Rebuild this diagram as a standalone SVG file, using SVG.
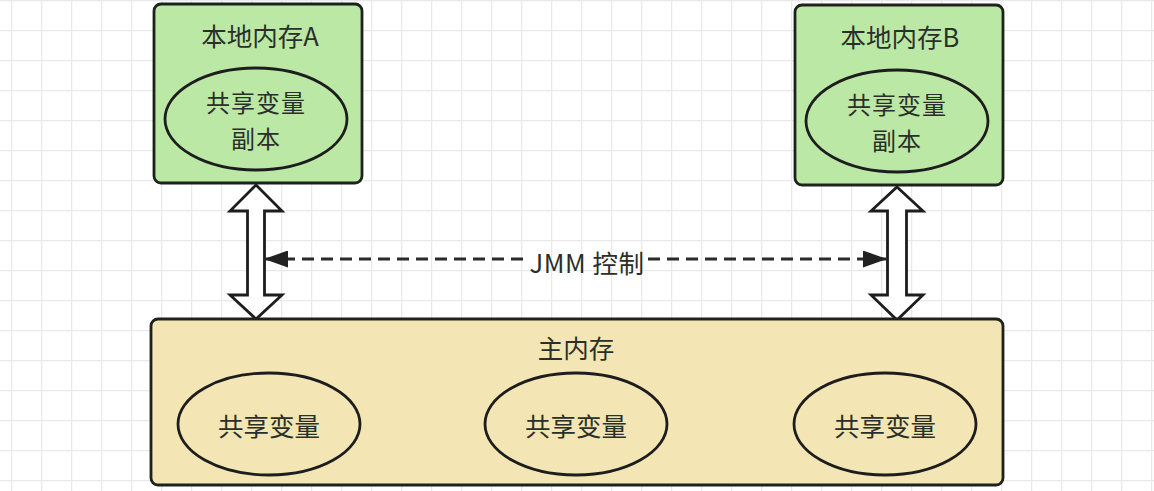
<svg xmlns="http://www.w3.org/2000/svg" width="1154" height="491" viewBox="0 0 1154 491">
<defs>
<pattern id="grid" x="11" y="0" width="30" height="30" patternUnits="userSpaceOnUse">
<path d="M0.5 0 V30 M0 0.5 H30" fill="none" stroke="#e9e9e9" stroke-width="1.6"/>
</pattern>
<marker id="ah" viewBox="0 0 24 17" refX="24" refY="8.5" markerWidth="24" markerHeight="17" markerUnits="userSpaceOnUse" orient="auto">
<path d="M0 0 L24 8.5 L0 17 Z" fill="#222"/>
</marker>
<marker id="ahs" viewBox="0 0 24 17" refX="0" refY="8.5" markerWidth="24" markerHeight="17" markerUnits="userSpaceOnUse" orient="auto">
<path d="M24 0 L0 8.5 L24 17 Z" fill="#222"/>
</marker>
</defs>
<style>
.box{stroke:#1d221d;stroke-width:2.8}
.local{fill:#bce8a5}
.main{fill:#f3e6b4}
.ell{fill:none;stroke:#1d1d1d;stroke-width:2.8}
.t{font-family:"Noto Sans CJK SC","Noto Sans",sans-serif;font-size:25.5px;fill:#2a2f2a;text-anchor:middle;dominant-baseline:central}
.t2{font-size:24px}
.dbl{fill:#ffffff;stroke:#1d1d1d;stroke-width:2.8;stroke-linejoin:miter}
.dash{fill:none;stroke:#2a2a2a;stroke-width:2.8;stroke-dasharray:12 7}
</style>
<rect width="1154" height="491" fill="#ffffff"/>
<rect width="1154" height="491" fill="url(#grid)"/>

<g id="connectors">
<path class="dbl" d="M256 185 L282 211 L264.5 211 L264.5 295 L282 295 L256 319 L230 295 L247.5 295 L247.5 211 L230 211 Z"/>
<path class="dbl" d="M897 187 L923 211 L906.5 211 L906.5 295 L923 295 L897 320 L871 295 L887.5 295 L887.5 211 L871 211 Z"/>
<line class="dash" x1="264" y1="259" x2="525" y2="259" marker-start="url(#ahs)"/>
<line class="dash" x1="648" y1="259" x2="887" y2="259" marker-end="url(#ah)"/>
<text class="t" x="587" y="261" letter-spacing="0.5">JMM 控制</text>
</g>

<g id="localA">
<rect class="box local" x="154" y="4" width="208" height="179" rx="7"/>
<text class="t" x="260" y="34">本地内存A</text>
<ellipse class="ell" cx="256" cy="119" rx="91" ry="51"/>
<text class="t t2" x="256" y="101.5" letter-spacing="1">共享变量</text>
<text class="t t2" x="256" y="137.5" letter-spacing="1">副本</text>
</g>

<g id="localB">
<rect class="box local" x="795" y="5" width="208" height="180" rx="7"/>
<text class="t" x="900" y="35">本地内存B</text>
<ellipse class="ell" cx="897" cy="121" rx="91" ry="51"/>
<text class="t t2" x="897" y="103.5" letter-spacing="1">共享变量</text>
<text class="t t2" x="897" y="139.5" letter-spacing="1">副本</text>
</g>

<g id="mainMem">
<rect class="box main" x="151" y="319" width="852" height="166" rx="7"/>
<text class="t" x="576" y="346">主内存</text>
<ellipse class="ell" cx="269" cy="424" rx="91" ry="51"/>
<text class="t" x="269" y="424">共享变量</text>
<ellipse class="ell" cx="576" cy="424" rx="91" ry="51"/>
<text class="t" x="576" y="424">共享变量</text>
<ellipse class="ell" cx="885" cy="424" rx="91" ry="51"/>
<text class="t" x="885" y="424">共享变量</text>
</g>
</svg>
